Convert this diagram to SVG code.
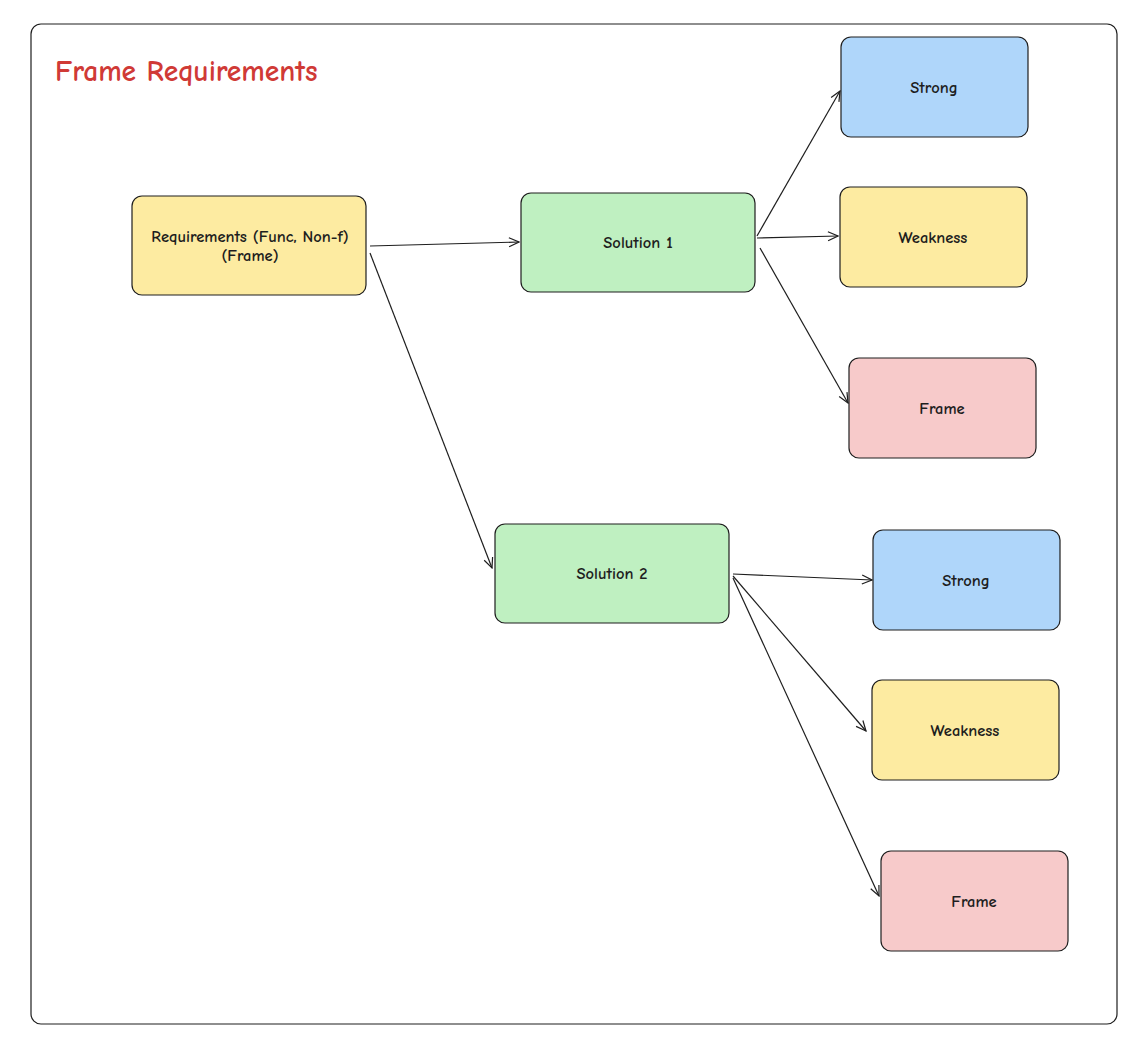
<svg xmlns="http://www.w3.org/2000/svg" width="1142" height="1048" viewBox="0 0 1142 1048">
<style>
.box{stroke:#1e1e1e;stroke-width:1.2}
.lbl{font-family:"Comic Neue","Liberation Sans",Lato,sans-serif;font-size:16.5px;font-weight:700;fill:#1e1e1e;text-anchor:middle;dominant-baseline:central}
.blue{fill:#afd6fa}.yellow{fill:#fdeba1}.green{fill:#bff0c1}.red{fill:#f7caca}
.edge{stroke:#1e1e1e;stroke-width:1.2;fill:none;marker-end:url(#ah)}
</style>
<defs>
<marker id="ah" viewBox="0 0 12 12" refX="11" refY="6" markerWidth="12" markerHeight="12" markerUnits="userSpaceOnUse" orient="auto">
<path d="M1,1.5 L11,6 L1,10.5" fill="none" stroke="#1e1e1e" stroke-width="1.2"/>
</marker>
</defs>
<rect x="0" y="0" width="1142" height="1048" fill="#ffffff"/>
<g id="frame">
<rect x="31" y="24" width="1086" height="1000" rx="10" fill="none" stroke="#1e1e1e" stroke-width="1.2"/>
<text x="55" y="81" font-family="'Comic Neue','Liberation Sans',sans-serif" font-size="29.5" font-weight="700" fill="#d03a36">Frame Requirements</text>
</g>
<g id="connectors">
<path class="edge" d="M370,246 L519,242"/>
<path class="edge" d="M370,253 L492,568"/>
<path class="edge" d="M757,236 L840,91"/>
<path class="edge" d="M757,238 L838,236"/>
<path class="edge" d="M760,248 L848,403"/>
<path class="edge" d="M733,574 L872,580"/>
<path class="edge" d="M733,576 L866,731"/>
<path class="edge" d="M733,578 L879,896"/>
</g>
<g id="req">
<rect class="box yellow" x="132" y="196" width="234" height="99" rx="10"/>
<text class="lbl" x="250" y="236">Requirements (Func, Non-f)</text>
<text class="lbl" x="250" y="255">(Frame)</text>
</g>
<g id="sol1">
<rect class="box green" x="521" y="193" width="234" height="99" rx="10"/>
<text class="lbl" x="638" y="242">Solution 1</text>
</g>
<g id="strong1">
<rect class="box blue" x="841" y="37" width="187" height="100" rx="10"/>
<text class="lbl" x="934" y="87">Strong</text>
</g>
<g id="weak1">
<rect class="box yellow" x="840" y="187" width="187" height="100" rx="10"/>
<text class="lbl" x="933" y="237">Weakness</text>
</g>
<g id="frame1">
<rect class="box red" x="849" y="358" width="187" height="100" rx="10"/>
<text class="lbl" x="942" y="408">Frame</text>
</g>
<g id="sol2">
<rect class="box green" x="495" y="524" width="234" height="99" rx="10"/>
<text class="lbl" x="612" y="573">Solution 2</text>
</g>
<g id="strong2">
<rect class="box blue" x="873" y="530" width="187" height="100" rx="10"/>
<text class="lbl" x="966" y="580">Strong</text>
</g>
<g id="weak2">
<rect class="box yellow" x="872" y="680" width="187" height="100" rx="10"/>
<text class="lbl" x="965" y="730">Weakness</text>
</g>
<g id="frame2">
<rect class="box red" x="881" y="851" width="187" height="100" rx="10"/>
<text class="lbl" x="974" y="901">Frame</text>
</g>
</svg>
